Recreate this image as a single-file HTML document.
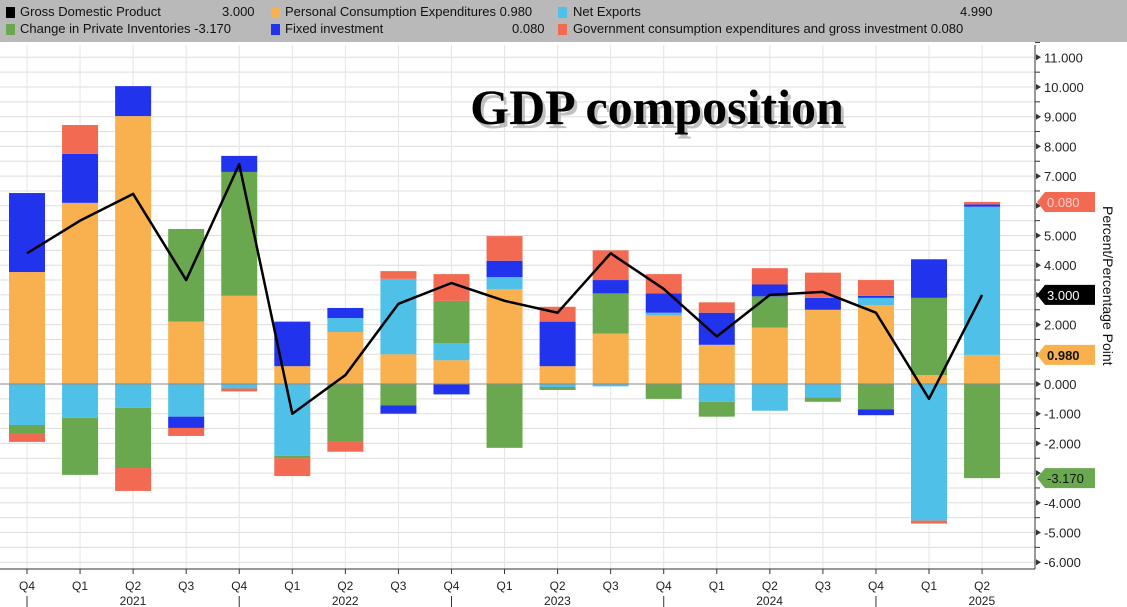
<!DOCTYPE html>
<html><head><meta charset="utf-8"><style>
html,body{margin:0;padding:0;background:#fff;width:1127px;height:607px;overflow:hidden;font-family:"Liberation Sans",sans-serif}
#lg{position:absolute;left:0;top:0;width:1127px;height:42px;background:#b9b9b9;font-size:13px;color:#111}
#lg span{position:absolute;white-space:nowrap}
.sw{display:inline-block;width:9px;height:11px;position:absolute}
</style></head><body>
<div id="lg">
<div class="sw" style="left:6px;top:7px;background:#000"></div><span style="left:20px;top:4px">Gross Domestic Product</span><span style="left:222px;top:4px">3.000</span>
<div class="sw" style="left:6px;top:24px;background:#6aa84f"></div><span style="left:20px;top:21px">Change in Private Inventories -3.170</span>
<div class="sw" style="left:271px;top:7px;background:#f9b04e"></div><span style="left:285px;top:4px">Personal Consumption Expenditures 0.980</span>
<div class="sw" style="left:271px;top:24px;background:#2233ee"></div><span style="left:285px;top:21px">Fixed investment</span><span style="left:512px;top:21px">0.080</span>
<div class="sw" style="left:558px;top:7px;background:#4fc0e8"></div><span style="left:573px;top:4px">Net Exports</span><span style="left:960px;top:4px">4.990</span>
<div class="sw" style="left:558px;top:24px;background:#f26a52"></div><span style="left:573px;top:21px">Government consumption expenditures and gross investment 0.080</span>
</div>
<svg id="s" width="1127" height="607" style="position:absolute;left:0;top:0" xmlns="http://www.w3.org/2000/svg"></svg>
<script>
const s=document.getElementById('s');let h='';
const Z=384,U=29.7,y=v=>Z-v*U;
const C={o:'#f9b04e',b:'#2233ee',g:'#6aa84f',l:'#4fc0e8',r:'#f26a52'};
// gridlines
for(let v=-6;v<=11.01;v+=0.5){h+=`<line x1="0" x2="1035" y1="${y(v)}" y2="${y(v)}" stroke="#ddd" stroke-width="1"/>`}
for(let i=0;i<19;i++){let x=27+i*53.06;h+=`<line x1="${x}" x2="${x}" y1="45" y2="569" stroke="#e4e4e4"/>`}
const D=[
[[['o',3.77],['b',6.43]],[['l',-1.38],['g',-1.65],['r',-1.95]],4.4],
[[['o',6.1],['b',7.75],['r',8.72]],[['l',-1.14],['g',-3.06]],5.5],
[[['o',9.02],['b',10.03]],[['l',-0.8],['g',-2.83],['r',-3.6]],6.4],
[[['o',2.1],['g',5.22]],[['l',-1.1],['b',-1.48],['r',-1.75]],3.5],
[[['o',2.97],['g',7.14],['b',7.68]],[['l',-0.15],['r',-0.25]],7.4],
[[['o',0.6],['b',2.1]],[['l',-2.42],['g',-2.5],['r',-3.1]],-1.0],
[[['o',1.75],['l',2.22],['b',2.56]],[['g',-1.95],['r',-2.28]],0.3],
[[['o',1.0],['l',3.54],['r',3.8]],[['g',-0.72],['b',-1.0]],2.7],
[[['o',0.8],['l',1.38],['g',2.8],['r',3.7]],[['b',-0.35]],3.4],
[[['o',3.2],['l',3.6],['b',4.15],['r',4.98]],[['g',-2.15]],2.8],
[[['o',0.6],['b',2.1],['r',2.6]],[['l',-0.1],['g',-0.2]],2.4],
[[['o',1.7],['g',3.05],['b',3.5],['r',4.5]],[['l',-0.08]],4.4],
[[['o',2.3],['l',2.4],['b',3.05],['r',3.7]],[['g',-0.5]],3.2],
[[['o',1.32],['b',2.4],['r',2.75]],[['l',-0.6],['g',-1.1]],1.6],
[[['o',1.9],['g',2.95],['b',3.35],['r',3.9]],[['l',-0.9]],3.0],
[[['o',2.5],['b',2.9],['r',3.75]],[['l',-0.45],['g',-0.6]],3.1],
[[['o',2.65],['l',2.9],['b',2.97],['r',3.5]],[['g',-0.85],['b',-1.05]],2.4],
[[['o',0.3],['g',2.9],['b',4.2]],[['l',-4.6],['r',-4.7]],-0.5],
[[['o',0.98],['l',5.97],['b',6.05],['r',6.13]],[['g',-3.17]],3.0]];
let pts=[];
D.forEach((d,i)=>{const x=27+i*53.06;[d[0],d[1]].forEach(st=>{let p=0;st.forEach(([c,v])=>{const a=y(p),b=y(v);h+=`<rect x="${x-18}" y="${Math.min(a,b)}" width="36" height="${Math.abs(a-b)}" fill="${C[c]}"/>`;p=v;})});pts.push(`${x},${y(d[2])}`)});
h+=`<line x1="0" x2="1035" y1="${Z}" y2="${Z}" stroke="#888"/>`;
h+=`<polyline points="${pts.join(' ')}" fill="none" stroke="#000" stroke-width="2.5" stroke-linejoin="round"/>`;
h+=`<line x1="0" x2="1035" y1="569" y2="569" stroke="#333"/><line x1="1035" x2="1035" y1="45" y2="569" stroke="#333"/>`;
for(let v=-6;v<=11;v++){const yy=y(v);h+=`<path d="M1036 ${yy-3}L1041 ${yy}L1036 ${yy+3}Z" fill="#333"/><text x="1044" y="${yy+5}" font-size="13" fill="#222">${v.toFixed(3)}</text>`;h+=`<line x1="1035" x2="1040" y1="${y(v+0.5)}" y2="${y(v+0.5)}" stroke="#333"/>`}
// labels
const tag=(v,bg,fg,t,bold)=>{const yy=y(v);h+=`<path d="M1037 ${yy}L1045 ${yy-10}H1095V${yy+10}H1045Z" fill="${bg}"/><text x="1047" y="${yy+5}" font-size="13" fill="${fg}" ${bold?'font-weight="bold"':''}>${t}</text>`};
h+=`<rect x="1045" y="${y(6.13)+6}" width="50" height="3" fill="#2233ee"/>`;
tag(6.13,'#f26a52','#ffd0c8','0.080');tag(3,'#000','#fff','3.000');tag(0.98,'#f9b04e','#111','0.980',1);tag(-3.17,'#6aa84f','#111','-3.170');
h+=`<text transform="translate(1103,206) rotate(90)" font-size="14" fill="#111">Percent/Percentage Point</text>`;
const q=['Q4','Q1','Q2','Q3'];
for(let i=0;i<19;i++){const x=27+i*53.06;h+=`<line x1="${x}" x2="${x}" y1="569" y2="574" stroke="#333"/><text x="${x}" y="590" font-size="12" text-anchor="middle" fill="#222">${q[i%4]}</text>`;if(i%4==0)h+=`<line x1="${x}" x2="${x}" y1="596" y2="607" stroke="#333"/>`;}
['2021','2022','2023','2024','2025'].forEach((t,k)=>{h+=`<text x="${133+k*212.2}" y="605" font-size="12" text-anchor="middle" fill="#222">${t}</text>`});
h+=`<text x="657" y="124" font-family="Liberation Serif,serif" font-weight="bold" font-size="50" text-anchor="middle" fill="#999" opacity=".6" transform="translate(3,4)">GDP composition</text>`;
h+=`<text x="657" y="124" font-family="Liberation Serif,serif" font-weight="bold" font-size="50" text-anchor="middle" fill="#000">GDP composition</text>`;
s.innerHTML=h;
</script>
</body></html>
